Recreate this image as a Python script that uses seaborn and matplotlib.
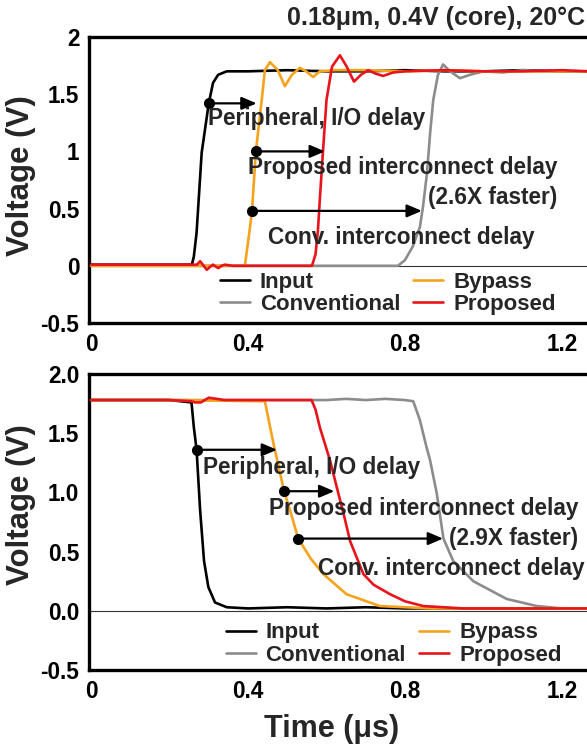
import numpy as np
import pandas as pd
import matplotlib
matplotlib.use("Agg")
import matplotlib.pyplot as plt
import seaborn as sns

# ---------------- data ----------------
series_names = ["Input", "Conventional", "Bypass", "Proposed"]
series_colors = ["#000000", "#8c8c8c", "#f5a31e", "#e8141b"]

# Top panel (rising edge)
top_input_t = [0.0, 0.1, 0.2, 0.257, 0.262, 0.269, 0.282, 0.300, 0.311, 0.324, 0.346, 0.4, 0.5, 0.6, 0.7, 0.8, 0.9, 1.0, 1.1, 1.2, 1.27]
top_input_v = [0.01, 0.01, 0.01, 0.01, 0.08, 0.29, 0.99, 1.42, 1.60, 1.67, 1.70, 1.70, 1.71, 1.70, 1.70, 1.71, 1.70, 1.70, 1.71, 1.70, 1.70]

top_conv_t = [0.0, 0.2, 0.4, 0.6, 0.782, 0.80, 0.82, 0.838, 0.846, 0.856, 0.864, 0.872, 0.884, 0.897, 0.915, 0.94, 0.966, 1.0, 1.05, 1.1, 1.15, 1.2, 1.27]
top_conv_v = [0.0, 0.0, 0.0, 0.0, 0.0, 0.05, 0.17, 0.34, 0.52, 0.81, 1.16, 1.45, 1.67, 1.76, 1.70, 1.64, 1.67, 1.70, 1.69, 1.71, 1.70, 1.70, 1.70]

top_bypass_t = [0.0, 0.2, 0.392, 0.401, 0.41, 0.42, 0.435, 0.443, 0.456, 0.476, 0.494, 0.512, 0.532, 0.548, 0.566, 0.583, 0.62, 0.7, 0.8, 0.9, 1.0, 1.1, 1.2, 1.27]
top_bypass_v = [0.0, 0.0, 0.0, 0.23, 0.47, 1.0, 1.45, 1.71, 1.78, 1.71, 1.57, 1.67, 1.73, 1.70, 1.65, 1.70, 1.71, 1.71, 1.70, 1.71, 1.70, 1.70, 1.70, 1.70]

top_prop_t = [0.0, 0.27, 0.278, 0.287, 0.295, 0.303, 0.311, 0.317, 0.324, 0.333, 0.341, 0.36, 0.45, 0.563, 0.572, 0.578, 0.583, 0.591, 0.600, 0.614, 0.634, 0.650, 0.670, 0.688, 0.706, 0.725, 0.744, 0.770, 0.80, 0.9, 1.0, 1.1, 1.2, 1.27]
top_prop_v = [0.01, 0.01, 0.04, 0.0, -0.035, -0.01, 0.01, -0.005, -0.02, 0.0, 0.01, 0.0, 0.0, 0.0, 0.1, 0.3, 0.58, 1.0, 1.45, 1.74, 1.84, 1.75, 1.61, 1.67, 1.71, 1.68, 1.66, 1.69, 1.70, 1.71, 1.70, 1.70, 1.71, 1.70]

# Bottom panel (falling edge)
bot_input_t = [0.0, 0.1, 0.2, 0.256, 0.262, 0.269, 0.278, 0.288, 0.299, 0.316, 0.346, 0.4, 0.5, 0.6, 0.7, 0.8, 0.9, 1.0, 1.1, 1.2, 1.27]
bot_input_v = [1.78, 1.78, 1.78, 1.76, 1.55, 1.36, 0.85, 0.42, 0.20, 0.07, 0.03, 0.02, 0.03, 0.02, 0.03, 0.02, 0.02, 0.02, 0.02, 0.02, 0.02]

bot_conv_t = [0.0, 0.2, 0.4, 0.5, 0.6, 0.65, 0.7, 0.75, 0.8, 0.821, 0.838, 0.855, 0.864, 0.881, 0.898, 0.923, 0.974, 1.059, 1.136, 1.2, 1.27]
bot_conv_v = [1.78, 1.78, 1.78, 1.78, 1.78, 1.79, 1.78, 1.79, 1.78, 1.77, 1.61, 1.38, 1.27, 0.99, 0.61, 0.42, 0.25, 0.10, 0.04, 0.02, 0.02]

bot_bypass_t = [0.0, 0.2, 0.443, 0.465, 0.482, 0.492, 0.507, 0.528, 0.56, 0.592, 0.651, 0.736, 0.864, 1.0, 1.27]
bot_bypass_v = [1.78, 1.78, 1.77, 1.41, 1.16, 1.01, 0.85, 0.61, 0.44, 0.31, 0.14, 0.04, 0.02, 0.02, 0.02]

bot_prop_t = [0.0, 0.2, 0.255, 0.265, 0.28, 0.30, 0.32, 0.34, 0.45, 0.562, 0.572, 0.583, 0.609, 0.628, 0.645, 0.66, 0.694, 0.72, 0.762, 0.80, 0.847, 0.95, 1.1, 1.27]
bot_prop_v = [1.78, 1.78, 1.77, 1.76, 1.76, 1.80, 1.79, 1.78, 1.78, 1.78, 1.70, 1.55, 1.27, 1.02, 0.80, 0.59, 0.31, 0.22, 0.14, 0.08, 0.04, 0.02, 0.02, 0.02]

top_yticks = [-0.5, 0, 0.5, 1, 1.5, 2]
top_yticklabels = ["-0.5", "0", "0.5", "1", "1.5", "2"]
bot_yticks = [-0.5, 0.0, 0.5, 1.0, 1.5, 2.0]
bot_yticklabels = ["-0.5", "0.0", "0.5", "1.0", "1.5", "2.0"]
xticks = [0, 0.4, 0.8, 1.2]
xticklabels = ["0", "0.4", "0.8", "1.2"]

title_text = "0.18\u03bcm, 0.4V (core), 20\u00b0C"

# ---------------- style ----------------
sns.set_style("white")
plt.rcParams["font.family"] = ["Liberation Sans", "DejaVu Sans"]
plt.rcParams["font.weight"] = "bold"
plt.rcParams["axes.labelweight"] = "bold"

fig = plt.figure(figsize=(5.87, 7.47), dpi=100)
ax_top = fig.add_axes([89 / 587, 1 - 323 / 747, 1 - 89 / 587, (323 - 37) / 747])
ax_bot = fig.add_axes([89 / 587, 1 - 670 / 747, 1 - 89 / 587, (670 - 374) / 747])

x_left = (89 - 91) / 392.5
x_right = (587 - 91) / 392.5


def draw_panel(ax, data, yticks, yticklabels):
    ax.axhline(0, color="#333333", lw=0.8, zorder=1)
    for (t, v), name, col in zip(data, series_names, series_colors):
        df = pd.DataFrame({"t": t, "v": v})
        sns.lineplot(data=df, x="t", y="v", ax=ax, color=col, lw=1.9,
                     label=name, estimator=None, sort=False, zorder=3)
    ax.set_xlim(x_left, x_right)
    ax.set_ylim(-0.5, 2.0)
    ax.set_xticks(xticks)
    ax.set_xticklabels(xticklabels)
    ax.set_yticks(yticks)
    ax.set_yticklabels(yticklabels)
    ax.tick_params(axis="both", direction="in", length=4, width=1.5,
                   labelsize=16.3, pad=7, colors="black")
    for lab in ax.get_xticklabels() + ax.get_yticklabels():
        lab.set_fontweight("bold")
    for side in ["left", "bottom", "top"]:
        ax.spines[side].set_linewidth(2.4)
        ax.spines[side].set_color("black")
    ax.spines["right"].set_visible(False)
    ax.set_xlabel("")
    ax.set_ylabel("Voltage (V)", fontsize=22.5, fontweight="bold")


def arrow(ax, x0, x1, y):
    ax.annotate("", xy=(x1, y), xytext=(x0, y),
                arrowprops=dict(arrowstyle="-|>,head_length=0.75,head_width=0.32",
                                mutation_scale=12, lw=1.6, color="black",
                                shrinkA=0, shrinkB=0), zorder=5)
    ax.plot([x0], [y], marker="o", ms=7, color="black", zorder=6)


ann_fs = 16.3
leg_kw = dict(ncol=2, loc="center", frameon=False, fontsize=16, handlelength=1.35,
              handletextpad=0.45, columnspacing=0.6, labelspacing=0.05, borderpad=0.1)

# top panel
draw_panel(ax_top, [(top_input_t, top_input_v), (top_conv_t, top_conv_v),
                    (top_bypass_t, top_bypass_v), (top_prop_t, top_prop_v)],
           top_yticks, top_yticklabels)
arrow(ax_top, 0.300, 0.422, 1.42)
arrow(ax_top, 0.420, 0.596, 1.00)
arrow(ax_top, 0.410, 0.843, 0.48)
ax_top.text(0.298, 1.29, "Peripheral, I/O delay", ha="left", va="center", fontsize=ann_fs, fontweight="bold", zorder=7)
ax_top.text(0.400, 0.86, "Proposed interconnect delay", ha="left", va="center", fontsize=ann_fs, fontweight="bold", zorder=7)
ax_top.text(1.187, 0.60, "(2.6X faster)", ha="right", va="center", fontsize=ann_fs, fontweight="bold", zorder=7)
ax_top.text(0.451, 0.25, "Conv. interconnect delay", ha="left", va="center", fontsize=ann_fs, fontweight="bold", zorder=7)
leg = ax_top.legend(bbox_to_anchor=(0.60, 0.103), **leg_kw)
for txt in leg.get_texts():
    txt.set_fontweight("bold")
ax_top.yaxis.set_label_coords(-0.106, 0.517)

# bottom panel
draw_panel(ax_bot, [(bot_input_t, bot_input_v), (bot_conv_t, bot_conv_v),
                    (bot_bypass_t, bot_bypass_v), (bot_prop_t, bot_prop_v)],
           bot_yticks, bot_yticklabels)
arrow(ax_bot, 0.270, 0.474, 1.36)
arrow(ax_bot, 0.492, 0.620, 1.01)
arrow(ax_bot, 0.528, 0.897, 0.61)
ax_bot.text(0.285, 1.21, "Peripheral, I/O delay", ha="left", va="center", fontsize=ann_fs, fontweight="bold", zorder=7)
ax_bot.text(0.454, 0.86, "Proposed interconnect delay", ha="left", va="center", fontsize=ann_fs, fontweight="bold", zorder=7)
ax_bot.text(1.241, 0.61, "(2.9X faster)", ha="right", va="center", fontsize=ann_fs, fontweight="bold", zorder=7)
ax_bot.text(0.579, 0.36, "Conv. interconnect delay", ha="left", va="center", fontsize=ann_fs, fontweight="bold", zorder=7)
leg = ax_bot.legend(bbox_to_anchor=(0.612, 0.088), **leg_kw)
for txt in leg.get_texts():
    txt.set_fontweight("bold")
ax_bot.yaxis.set_label_coords(-0.106, 0.56)
ax_bot.set_xlabel("Time (\u03bcs)", fontsize=22, fontweight="bold")
ax_bot.xaxis.set_label_coords(0.488, -0.15)

fig.text(0.997, 0.976, title_text, ha="right", va="center", fontsize=18, fontweight="bold")

fig.savefig("out.png", dpi=100)
